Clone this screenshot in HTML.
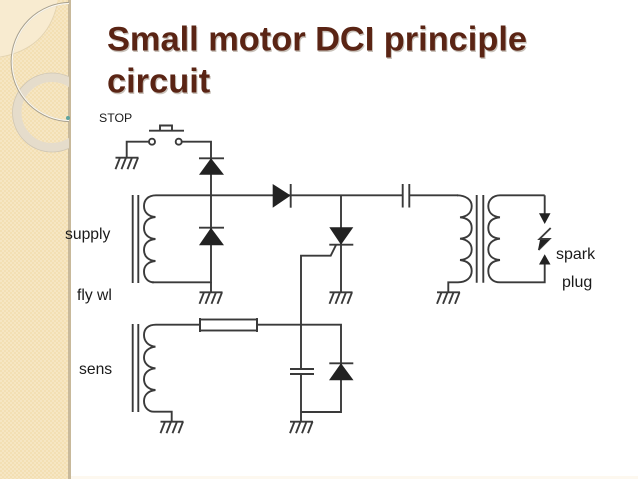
<!DOCTYPE html>
<html><head><meta charset="utf-8"><style>
html,body{margin:0;padding:0;background:#fff;width:638px;height:479px;overflow:hidden}
svg{display:block}
.w{fill:none;stroke:#3a3a3a;stroke-width:1.9}
.f{fill:#222;stroke:none}
.l{font-family:"Liberation Sans",sans-serif;fill:#1a1a1a}
.t{font-family:"Liberation Sans",sans-serif;font-weight:bold;font-size:34.4px;fill:#5a2414}
.s{font-family:"Liberation Sans",sans-serif;font-weight:bold;font-size:34.4px;fill:#c9c2ba}
</style></head><body>
<svg width="638" height="479" viewBox="0 0 638 479" xmlns="http://www.w3.org/2000/svg">
<defs>
<pattern id="ck" width="4" height="4" patternUnits="userSpaceOnUse">
<rect width="4" height="4" fill="#f3dfb3"/><rect width="2" height="2" fill="#f6e6c3"/><rect x="2" y="2" width="2" height="2" fill="#f6e6c3"/>
</pattern>
<clipPath id="sb"><rect width="69" height="479"/></clipPath>
<g id="g"><path class="w" d="M-11.500 0H11.500M-7 0L-11.500 11.500M-1 0L-5.500 11.500M5 0L.5 11.500M11 0L6.500 11.500"/></g>
</defs>
<rect x="0" y="476" width="638" height="3" fill="#fdf8ef"/>
<rect width="69" height="479" fill="url(#ck)"/>
<rect x="68" width="3" height="479" fill="#c8b99b"/>
<g clip-path="url(#sb)">
<path d="M0 0H57V5C50 35 30 52 0 57Z" fill="#f8ebd0"/>
<path d="M57 5C50 35 30 52 0 57" fill="none" stroke="#e2d2b0" stroke-width=".8"/>
<circle cx="52" cy="112.500" r="35" fill="none" stroke="#e5dccb" stroke-width="9"/>
<circle cx="52" cy="112.500" r="39.500" fill="none" stroke="#cfc6b4" stroke-width=".8"/>
<circle cx="70.700" cy="62" r="59" fill="none" stroke="#a8a08e" stroke-width="2.200"/>
<circle cx="70.700" cy="62" r="58.500" fill="none" stroke="#fbf8f0" stroke-width="1.200"/>
</g>
<circle cx="68" cy="118" r="2" fill="#5fa5a0"/>

<text class="s" x="108" y="52" textLength="420">Small motor DCI principle</text>
<text class="s" x="108" y="94">circuit</text>
<text class="t" x="107" y="50.700" textLength="420">Small motor DCI principle</text>
<text class="t" x="107" y="92.700">circuit</text>

<text class="l" x="99" y="122" font-size="12.300">STOP</text>
<text class="l" x="65" y="239" font-size="15.700">supply</text>
<text class="l" x="77" y="300" font-size="15.700">fly wl</text>
<text class="l" x="79" y="374" font-size="15.700">sens</text>
<text class="l" x="556" y="259" font-size="16">spark</text>
<text class="l" x="562" y="287" font-size="16">plug</text>

<!-- stop switch -->
<path class="w" d="M149 130.700H184M160 130.700V125.500H172V130.700"/>
<circle class="w" cx="152" cy="141.700" r="3"/>
<circle class="w" cx="178.700" cy="141.700" r="3"/>
<path class="w" d="M149 141.700H126.700V157.700M181.700 141.700H211V282.300H152"/>
<use href="#g" x="127" y="157.700"/>
<path class="w" d="M199 158.300H224"/>
<path class="f" d="M211 158.300L224 174.800H199Z"/>
<path class="w" d="M199 227.700H224"/>
<path class="f" d="M211 227.700L224 245.300H199Z"/>
<path class="w" d="M211 282V292.300"/>
<use href="#g" x="211" y="292.300"/>

<!-- coil 1 -->
<path class="w" d="M132.700 195V283M138.300 195V283"/>
<path class="w" d="M156 195.300C148 195.300 144 200 144 206C144 212 148 216.500 155.500 217M155.500 217C148 217.500 144 222 144 228C144 234 148 238.500 155.500 239M155.500 239C148 239.500 144 244 144 250C144 256 148 260.500 155.500 261M155.500 261C148 261.500 144 266 144 271.500C144 278 148 282.300 154 282.300"/>

<!-- main line -->
<path class="w" d="M156 195.300H402.700M409.300 195.300H458"/>
<path class="f" d="M272.700 184L290.700 195.500L272.700 207.700Z"/>
<path class="w" d="M290.700 184V207.700"/>
<path class="w" d="M402.700 184V207.500M409.300 184V207.500"/>

<!-- SCR -->
<path class="w" d="M341 195.300V292.300"/>
<path class="f" d="M329.300 227.300H353.300L341 244.700Z"/>
<path class="w" d="M329.300 244.700H353.300"/>
<path class="w" d="M336 245L330.700 255.700H301V421.700"/>
<use href="#g" x="341" y="292.300"/>

<!-- output transformer -->
<path class="w" d="M457 195.300C466 195.300 471.700 200 471.700 206C471.700 212 468 216.500 460 217.300M460 217.300C468 218 471.700 222 471.700 228C471.700 234 468 238 460 238.700M460 238.700C468 239.500 471.700 244 471.700 249.500C471.700 255 468 259.500 460 260M460 260C468 261 471.700 265 471.700 271C471.700 278 466 282.300 458 282.300H448.300V292.300"/>
<use href="#g" x="448.500" y="292.300"/>
<path class="w" d="M476.700 195V282.700M483.300 195V282.700"/>
<path class="w" d="M544.700 195.300H500C493 195.300 488.300 200 488.300 206C488.300 212 492 216.500 500 217.300M500 217.300C492 218 488.300 222 488.300 228C488.300 234 492 238 500 238.700M500 238.700C492 239.500 488.300 244 488.300 249.500C488.300 255 492 259.500 500 260M500 260C492 261 488.300 265 488.300 271C488.300 278 493 282.300 500 282.300H544.700V262"/>
<path class="w" d="M544.700 195.300V214"/>
<path class="f" d="M539 213.300H550.500L544.700 224Z"/>
<path class="f" d="M544.700 254.300L550.500 264.500H539Z"/>
<path class="w" d="M550.700 228L539.500 239H549.500L538.500 250"/>
<path class="f" d="M540 240H549L538 250Z"/>

<!-- sensor coil -->
<path class="w" d="M132.700 324V412M138.300 324V412"/>
<path class="w" d="M156 324.700C148 324.700 144 329 144 335C144 341 148 346 155.500 346.700M155.500 346.700C148 347.500 144 352 144 357.500C144 363 148 367.500 155.500 368.300M155.500 368.300C148 369 144 373.500 144 379C144 385 148 389.500 155.500 390M155.500 390C148 391 144 395 144 401C144 407 148 411.700 154 411.700H171.700V421.700"/>
<use href="#g" x="172" y="421.700"/>
<path class="w" d="M156 324.700H200M257 324.700H341V412H301"/>
<rect x="200" y="319.500" width="57" height="11" fill="#fff" stroke="#3a3a3a" stroke-width="1.900"/>
<path class="w" d="M200 318V332M257 318V332"/>
<path class="w" d="M329.300 363.300H353.300"/>
<path class="f" d="M341 363.300L353.500 380.300H329Z"/>
<rect x="296" y="370" width="10" height="4" fill="#fff"/>
<path class="w" d="M290 369H314M290 374H314"/>
<use href="#g" x="301.500" y="421.700"/>
</svg>
</body></html>
